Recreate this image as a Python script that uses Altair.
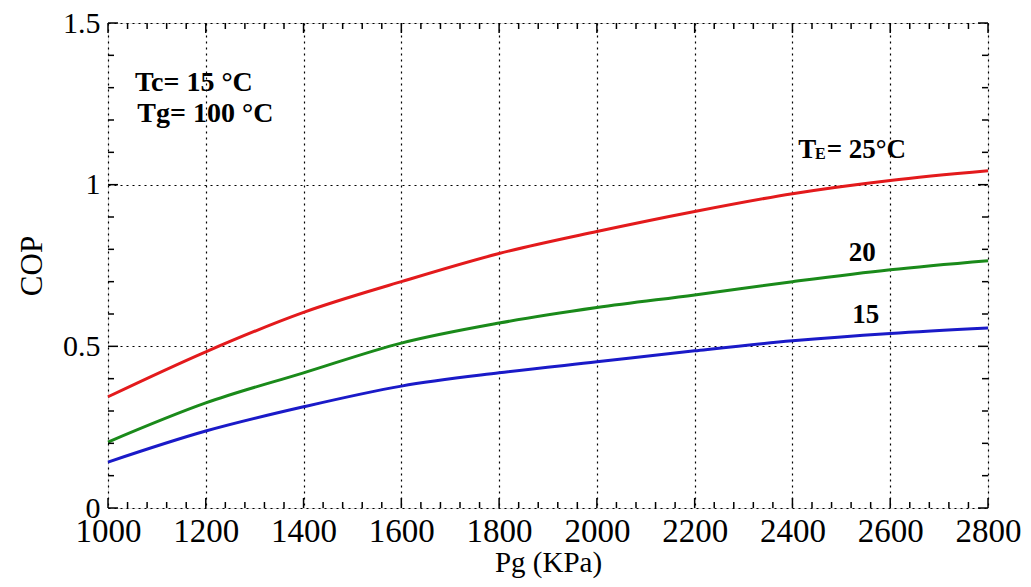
import altair as alt
import pandas as pd

pg = [1000, 1200, 1400, 1600, 1800, 2000, 2200, 2400, 2600, 2800]
cop_te25 = [0.344, 0.483, 0.605, 0.700, 0.787, 0.855, 0.917, 0.972, 1.013, 1.043]
cop_te20 = [0.204, 0.325, 0.418, 0.510, 0.572, 0.620, 0.659, 0.700, 0.737, 0.765]
cop_te15 = [0.142, 0.238, 0.313, 0.377, 0.418, 0.452, 0.486, 0.517, 0.540, 0.557]

series_names = ["25", "20", "15"]
series_colors = ["#e31a1c", "#1a8a1a", "#1a1ac8"]

x_minor = list(range(1000, 2801, 40))
x_major = list(range(1000, 2801, 200))
y_minor = [round(i * 0.1, 1) for i in range(0, 16)]
y_major = [0, 0.5, 1, 1.5]

W, H = 880, 485
FONT = "Liberation Serif"

rows = []
for name, vals in zip(series_names, [cop_te25, cop_te20, cop_te15]):
    for p, c in zip(pg, vals):
        rows.append({"Pg": p, "COP": c, "TE": name})
df = pd.DataFrame(rows)

xs = alt.Scale(domain=[1000, 2800], nice=False, zero=False)
ys = alt.Scale(domain=[0, 1.5], nice=False)

xaxis = alt.Axis(values=x_major, ticks=False, domain=False, grid=True, format="d",
                 gridDash=[2, 4], gridColor="black", gridWidth=1.2, gridOpacity=1,
                 labelFont=FONT, labelFontSize=33, labelColor="black", labelPadding=7,
                 labelOverlap=False, labelFlush=False, labelBound=False,
                 title="Pg (KPa)", titleFont=FONT, titleFontSize=29, titleFontWeight="normal",
                 titleColor="black", titlePadding=0)
yaxis = alt.Axis(values=y_major, ticks=False, domain=False, grid=True,
                 gridDash=[2, 4], gridColor="black", gridWidth=1.2, gridOpacity=1,
                 labelFont=FONT, labelFontSize=30, labelColor="black", labelPadding=8,
                 labelOverlap=False, labelFlush=False, labelBound=False,
                 format="~g",
                 title="COP", titleFont=FONT, titleFontSize=31, titleFontWeight="normal",
                 titleColor="black", titlePadding=14)

lines = alt.Chart(df).mark_line(strokeWidth=3, interpolate="monotone").encode(
    x=alt.X("Pg:Q", scale=xs, axis=xaxis),
    y=alt.Y("COP:Q", scale=ys, axis=yaxis),
    color=alt.Color("TE:N", scale=alt.Scale(domain=series_names, range=series_colors), legend=None),
    detail="TE:N",
)

xt = pd.DataFrame({"v": x_minor, "major": [v in x_major for v in x_minor]})
yt = pd.DataFrame({"v": y_minor, "major": [v in y_major for v in y_minor]})

def xticks(major, bottom):
    d = xt[xt.major == major]
    L = 10 if major else 6
    if bottom:
        y, y2 = alt.value(H), alt.value(H - L)
    else:
        y, y2 = alt.value(0), alt.value(L)
    return alt.Chart(d).mark_rule(color="black", strokeWidth=1.5).encode(
        x=alt.X("v:Q", scale=xs), y=y, y2=y2)

def yticks(major, left):
    d = yt[yt.major == major]
    L = 10 if major else 6
    if left:
        x, x2 = alt.value(0), alt.value(L)
    else:
        x, x2 = alt.value(W), alt.value(W - L)
    return alt.Chart(d).mark_rule(color="black", strokeWidth=1.5).encode(
        y=alt.Y("v:Q", scale=ys), x=x, x2=x2)

tick_layers = [xticks(m, b) for m in (True, False) for b in (True, False)] + \
              [yticks(m, l) for m in (True, False) for l in (True, False)]

ann = pd.DataFrame({
    "Pg": [1055, 1060],
    "COP": [1.315, 1.218],
    "t": ["Tc= 15 \u00b0C", "Tg= 100 \u00b0C"],
})
ann_txt = alt.Chart(ann).mark_text(font=FONT, fontSize=28, fontWeight="bold", align="left",
                                   baseline="middle", color="black").encode(
    x=alt.X("Pg:Q", scale=xs), y=alt.Y("COP:Q", scale=ys), text="t:N")

te_big = pd.DataFrame({"Pg": [2412, 2470], "COP": [1.108, 1.108], "t": ["T", "= 25\u00b0C"]})
te_big_txt = alt.Chart(te_big).mark_text(font=FONT, fontSize=27, fontWeight="bold", align="left",
                                         baseline="middle", color="black").encode(
    x=alt.X("Pg:Q", scale=xs), y=alt.Y("COP:Q", scale=ys), text="t:N")
te_sub = pd.DataFrame({"Pg": [2446], "COP": [1.095], "t": ["E"]})
te_sub_txt = alt.Chart(te_sub).mark_text(font=FONT, fontSize=16, fontWeight="bold", align="left",
                                         baseline="middle", color="black").encode(
    x=alt.X("Pg:Q", scale=xs), y=alt.Y("COP:Q", scale=ys), text="t:N")

lab = pd.DataFrame({"Pg": [2543, 2550], "COP": [0.79, 0.598], "t": ["20", "15"]})
lab_txt = alt.Chart(lab).mark_text(font=FONT, fontSize=27, fontWeight="bold", align="center",
                                   baseline="middle", color="black").encode(
    x=alt.X("Pg:Q", scale=xs), y=alt.Y("COP:Q", scale=ys), text="t:N")

chart = alt.layer(lines, *tick_layers, ann_txt, te_big_txt, te_sub_txt, lab_txt).properties(
    width=W, height=H,
    autosize=alt.AutoSizeParams(type="none"),
    padding={"left": 100, "top": 15, "right": 34, "bottom": 71},
).configure_view(stroke="black", strokeWidth=2).configure(background="white")

chart.save("out.html", embed_options={"renderer": "svg", "actions": False})
